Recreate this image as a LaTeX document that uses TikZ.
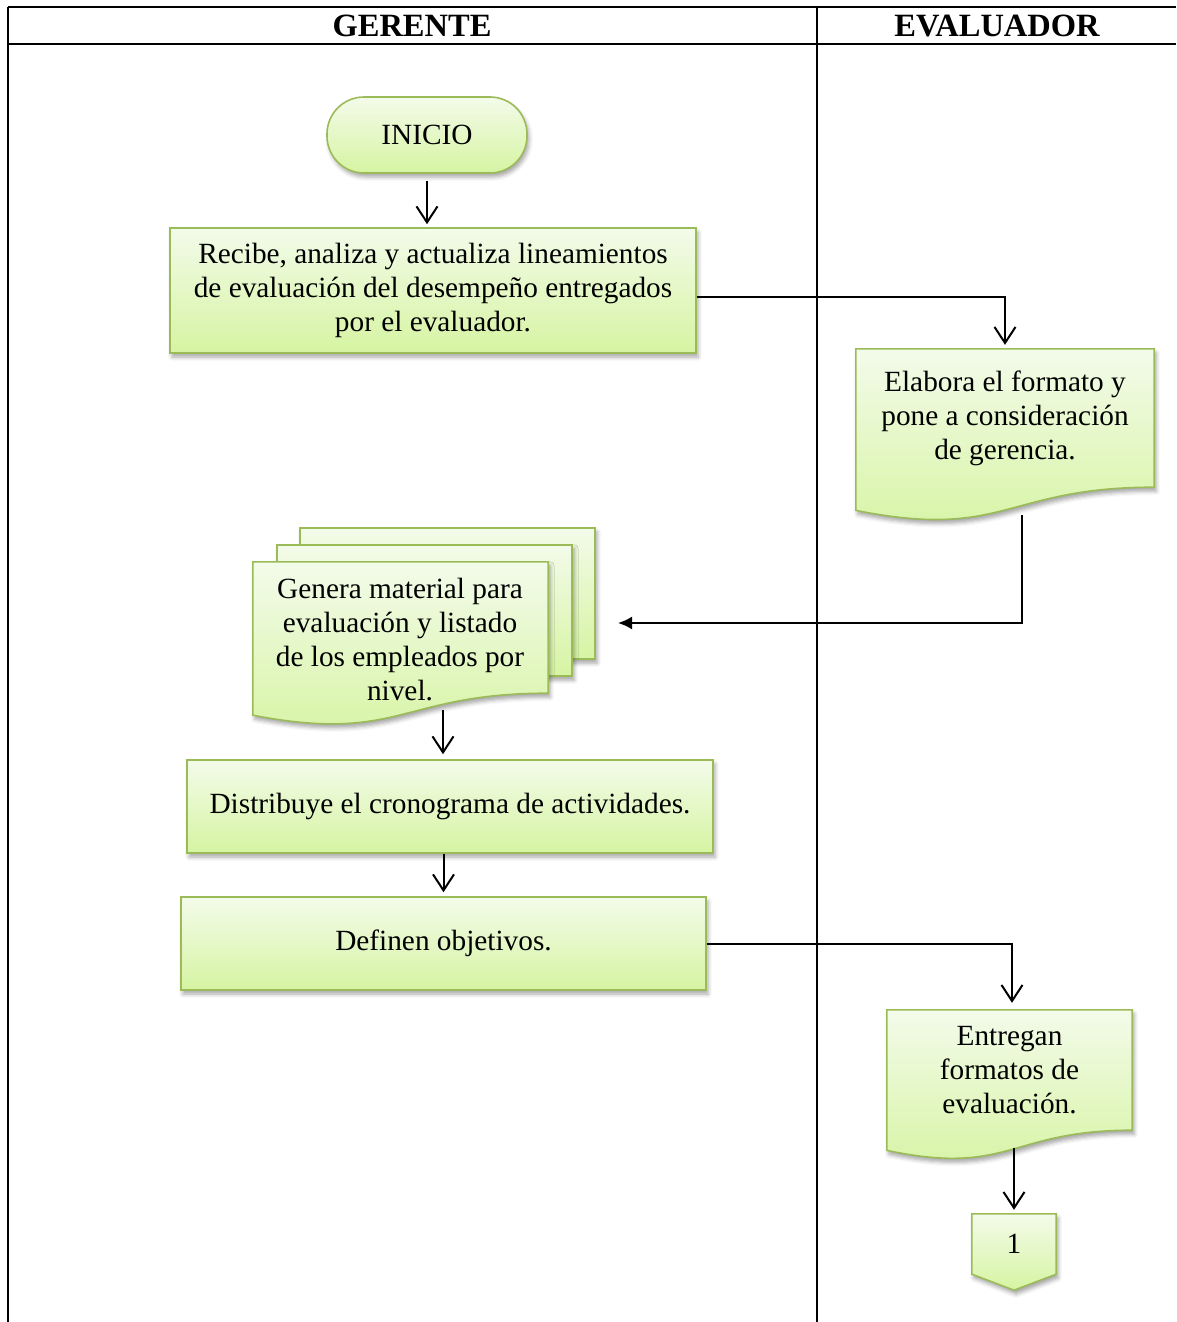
\documentclass[tikz,border=0pt]{standalone}
\usepackage{fontspec}
\setmainfont{Liberation Serif}
\usetikzlibrary{arrows.meta,calc,positioning,shadows.blur,backgrounds}

\definecolor{borde}{HTML}{9BBB59}
\definecolor{verdeclaro}{HTML}{F3FBEA}
\definecolor{verdeoscuro}{HTML}{D6F4A2}

\tikzset{
  caja/.style={draw=borde, line width=1.6pt, top color=verdeclaro, bottom color=verdeoscuro,
    blur shadow={shadow xshift=2pt, shadow yshift=-4pt, shadow blur radius=4pt, shadow opacity=35}},
  texto/.style={align=center, inner sep=0pt, font=\fontsize{29.3}{34}\selectfont},
  titulo/.style={texto, font=\fontsize{32.5}{34}\selectfont\bfseries},
  proceso/.style={caja, texto, rectangle},
  hojatxt/.style={texto, rectangle},
  flecha/.style={line width=2pt, -{Straight Barb[length=16pt,width=21pt]}},
  linea/.style={line width=2pt},
}

% documento con borde inferior ondulado, dibujado alrededor de un nodo
\newcommand{\hoja}[1]{%
  \path[caja] let \p1=(#1.north east), \p2=(#1.south west), \n1={\y1-\y2} in
    (\x2,\y1) -- (\x1,\y1) -- (\x1,\y2)
    .. controls ({0.5*(\x1+\x2)},\y2) and ({0.5*(\x1+\x2)},{\y2-0.384*\n1}) .. (\x2,{\y2-0.1675*\n1}) -- cycle;}

\begin{document}
\begin{tikzpicture}[x=1pt,y=1pt]
\useasboundingbox (0,0) rectangle (1176,-1322);

% Tabla de carriles
\draw[linea] (8,-7) -- (1176,-7);
\draw[linea] (8,-44) -- (1176,-44);
\draw[linea] (8,-7) -- (8,-1322);
\draw[linea] (817,-7) -- (817,-1322);
\node[titulo] (gerente) at (412,-26) {GERENTE};
\node[titulo] (evaluador) at (997,-26) {EVALUADOR};

% Gerente
\node[proceso, minimum width=200pt, minimum height=76pt, rounded corners=37pt] (inicio) at (427,-135) {INICIO};
\node[proceso, minimum width=526pt, minimum height=125pt] (recibe) at (433,-290.5)
  {Recibe, analiza y actualiza lineamientos\\de evaluación del desempeño entregados\\por el evaluador.};
\node[hojatxt, minimum width=295pt, minimum height=131pt] (genera) at (400.5,-627.5) {};
\node[texto] (generatxt) at (400,-640)
  {Genera material para\\evaluación y listado\\de los empleados por\\nivel.};
\node[proceso, minimum width=526pt, minimum height=93pt] (distribuye) at (450,-806.5)
  {Distribuye el cronograma de actividades.};
\node[proceso, minimum width=525pt, minimum height=93pt] (definen) at (443.5,-943.5)
  {Definen objetivos.};

% Evaluador
\node[hojatxt, minimum width=298pt, minimum height=138pt] (elabora) at (1005,-418)
  {Elabora el formato y\\pone a consideración\\de gerencia.};
\node[hojatxt, minimum width=245pt, minimum height=120pt] (entregan) at (1009.5,-1070)
  {Entregan\\formatos de\\evaluación.};
\node[hojatxt, minimum width=84pt, minimum height=60pt] (uno) at (1014,-1244) {1};

% Formas de documento y conector de pagina
\begin{scope}[on background layer]
  \foreach \dx/\dy in {47/34,24/17}
    \path[caja] ([xshift=\dx pt,yshift=\dy pt]genera.north west) rectangle ([xshift=\dx pt,yshift=\dy pt]genera.south east);
  \hoja{genera}
  \hoja{elabora}
  \hoja{entregan}
  \path[caja] (uno.north west) -- (uno.north east) -- (uno.south east)
    -- ($(uno.south)+(0,-16)$) -- (uno.south west) -- cycle;
\end{scope}

% Conectores
\coordinate (entrada) at (618,-623);
\coordinate (salida) at ($(genera.south)+(42.5,-17)$);
\draw[flecha, shorten <=7pt, shorten >=3pt] (inicio.south) -- (inicio.south |- recibe.north);
\draw[flecha, shorten >=4pt] ([yshift=-6.5pt]recibe.east) -| (elabora.north);
\draw[linea, -{Latex[length=14pt,width=13pt]}] ($(elabora.south)+(17,-28)$) |- (entrada);
\draw[flecha, shorten >=5pt] (salida) -- (salida |- distribuye.north);
\draw[flecha, shorten >=4pt] (definen.north |- distribuye.south) -- (definen.north);
\draw[flecha, shorten >=7pt] (definen.east) -| ($(entregan.north)+(2.5,0)$);
\draw[flecha, shorten >=4pt] ($(uno.north |- entregan.south)+(0,-18)$) -- (uno.north);
\end{tikzpicture}
\end{document}
